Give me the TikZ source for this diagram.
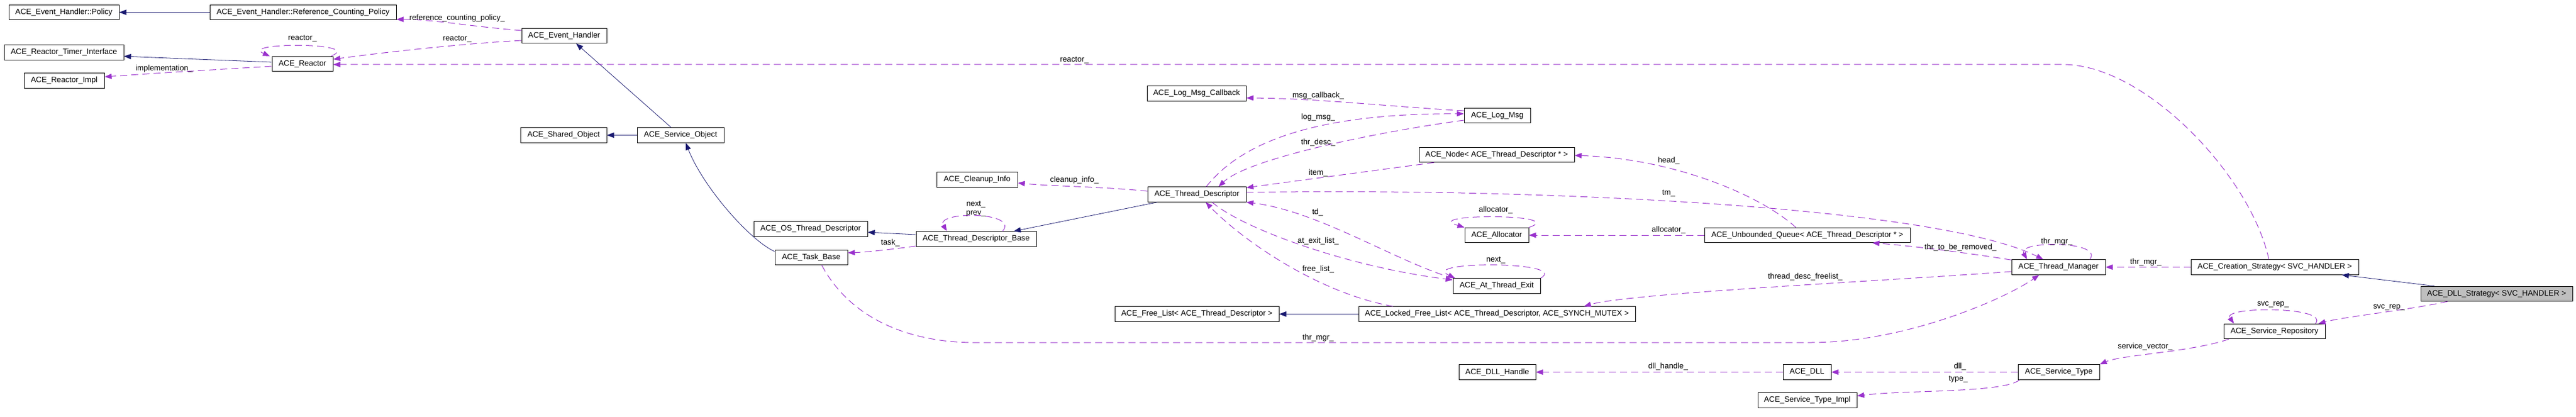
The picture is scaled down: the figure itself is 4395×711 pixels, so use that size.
\documentclass[tikz,border=0pt]{standalone}
\usepackage{fontspec}
\setmainfont{Liberation Sans}
\usetikzlibrary{arrows.meta,calc}
\definecolor{navyedge}{HTML}{191970}
\definecolor{purpedge}{HTML}{9A32CD}
\definecolor{focusgray}{HTML}{BFBFBF}
\begin{document}
\begin{tikzpicture}[x=1pt,y=-1pt,
  box/.style={draw=black, line width=1pt, fill=white, minimum height=25.5pt, inner xsep=1pt, inner ysep=0pt, font=\fontsize{13.3}{15}\selectfont, anchor=center},
  inh/.style={navyedge, line width=0.8pt, -{Triangle[length=12pt,width=9pt]}},
  use/.style={purpedge, line width=1pt, dash pattern=on 12pt off 7pt, -{Triangle[length=12pt,width=9pt]}},
  lab/.style={font=\fontsize{13.3}{15}\selectfont, inner sep=0pt, align=center}]
\useasboundingbox (0,0) rectangle (4395,711);
% nodes
\node[box, minimum width=188pt] (pol) at (109,21) {ACE\_Event\_Handler::Policy};
\node[box, minimum width=318pt] (rcp) at (517,21) {ACE\_Event\_Handler::Reference\_Counting\_Policy};
\node[box, minimum width=145pt] (eh) at (962.5,61) {ACE\_Event\_Handler};
\node[box, minimum width=204pt] (rti) at (109,89.5) {ACE\_Reactor\_Timer\_Interface};
\node[box, minimum width=104pt] (re) at (516,109) {ACE\_Reactor};
\node[box, minimum width=137pt] (rimpl) at (109.5,137.5) {ACE\_Reactor\_Impl};
\node[box, minimum width=147pt] (sh) at (961.5,230.5) {ACE\_Shared\_Object};
\node[box, minimum width=148pt] (so) at (1161,230.5) {ACE\_Service\_Object};
\node[box, minimum width=169pt] (lmc) at (2041.5,159.5) {ACE\_Log\_Msg\_Callback};
\node[box, minimum width=113pt] (lm) at (2554.5,197) {ACE\_Log\_Msg};
\node[box, minimum width=265pt] (nd) at (2553.5,264) {ACE\_Node< ACE\_Thread\_Descriptor * >};
\node[box, minimum width=138pt] (ci) at (1667,306.5) {ACE\_Cleanup\_Info};
\node[box, minimum width=168pt] (td) at (2042,331.5) {ACE\_Thread\_Descriptor};
\node[box, minimum width=194pt] (ostd) at (1383,390.5) {ACE\_OS\_Thread\_Descriptor};
\node[box, minimum width=205pt] (tdb) at (1665.5,407.5) {ACE\_Thread\_Descriptor\_Base};
\node[box, minimum width=124pt] (tb) at (1384,439) {ACE\_Task\_Base};
\node[box, minimum width=109pt] (alloc) at (2553.5,401) {ACE\_Allocator};
\node[box, minimum width=351pt] (uq) at (3083.5,401) {ACE\_Unbounded\_Queue< ACE\_Thread\_Descriptor * >};
\node[box, minimum width=149pt] (ate) at (2553.5,487.5) {ACE\_At\_Thread\_Exit};
\node[box, minimum width=160pt] (tm) at (3512,455.5) {ACE\_Thread\_Manager};
\node[box, minimum width=286pt] (cs) at (3881,455.5) {ACE\_Creation\_Strategy< SVC\_HANDLER >};
\node[box, minimum width=259pt, fill=focusgray] (dlls) at (4259.5,501) {ACE\_DLL\_Strategy< SVC\_HANDLER >};
\node[box, minimum width=280pt] (fl) at (2042,535.5) {ACE\_Free\_List< ACE\_Thread\_Descriptor >};
\node[box, minimum width=472pt] (lfl) at (2554,535.5) {ACE\_Locked\_Free\_List< ACE\_Thread\_Descriptor, ACE\_SYNCH\_MUTEX >};
\node[box, minimum width=173pt] (sr) at (3880.5,565) {ACE\_Service\_Repository};
\node[box, minimum width=131pt] (dllh) at (2554.5,634.5) {ACE\_DLL\_Handle};
\node[box, minimum width=82pt] (dll) at (3083,634.5) {ACE\_DLL};
\node[box, minimum width=139pt] (st) at (3512.5,634.5) {ACE\_Service\_Type};
\node[box, minimum width=169pt] (sti) at (3083.5,682.5) {ACE\_Service\_Type\_Impl};
% inheritance
\draw[inh] (rcp.west) -- (pol.east);
\draw[inh] ($(re.west)+(0,-3)$) -- ($(rti.east)+(0,6.5)$);
\draw[inh] ($(so.north)+(-16,0)$) -- ($(eh.south)+(20.5,0)$);
\draw[inh] (so.west) -- (sh.east);
\draw[inh] ($(tb.north west)+(0,3)$) .. controls (1280,410) and (1200,320) .. ($(so.south)+(9,0)$);
\draw[inh] ($(td.south west)+(17,0)$) -- ($(tdb.north east)+(-39,0)$);
\draw[inh] ($(tdb.west)+(0,-7.5)$) -- ($(ostd.east)+(0,5.5)$);
\draw[inh] (lfl.west) -- (fl.east);
\draw[inh] ($(dlls.north west)+(24,0)$) -- ($(cs.south east)+(-29,0)$);
% usage
\draw[use] ($(eh.west)+(0,-9)$) .. controls (800,45) and (740,33) .. ($(rcp.east)+(0,12)$);
\node[lab] (l1) at (780,31) {reference\_counting\_policy\_};
\draw[use] ($(eh.west)+(0,8)$) .. controls (780,75) and (650,90) .. ($(re.east)+(0,-8)$);
\node[lab] (l2) at (780,67) {reactor\_};
\draw[use] ($(re.north east)+(-4,0)$) .. controls (625,72) and (405,72) .. ($(re.north west)+(-3,0)$);
\node[lab] (l3) at (516,66) {reactor\_};
\draw[use] ($(re.west)+(0,4)$) .. controls (380,118) and (260,125) .. ($(rimpl.east)+(0,-6.5)$);
\node[lab] (l4) at (280,117) {implementation\_};
\draw[use] ($(cs.north)+(-10,0)$) .. controls (3840,300) and (3660,110) .. (3520,110) -- ($(re.east)+(0,1)$);
\node[lab] (l5) at (1833,103) {reactor\_};
\draw[use] ($(lm.west)+(0,-8)$) .. controls (2350,180) and (2250,168) .. ($(lmc.east)+(0,7.5)$);
\node[lab] (l6) at (2249,163) {msg\_callback\_};
\draw[use] ($(td.north)+(16,0)$) .. controls (2120,240) and (2250,193) .. ($(lm.west)+(0,-3)$);
\node[lab] (l7) at (2249,200) {log\_msg\_};
\draw[use] ($(lm.west)+(0,8)$) .. controls (2350,225) and (2130,270) .. ($(td.north)+(37,0)$);
\node[lab] (l8) at (2249,243) {thr\_desc\_};
\draw[use] ($(nd.south west)+(26,0)$) .. controls (2350,290) and (2200,310) .. ($(td.east)+(0,-11.5)$);
\node[lab] (l9) at (2249,295) {item\_};
\draw[use] ($(td.east)+(0,-3.5)$) .. controls (2600,320) and (3300,350) .. ($(tm.north)+(-26,0)$);
\node[lab] (l10) at (2847,330) {tm\_};
\draw[use] (ate.north west) .. controls (2380,445) and (2250,360) .. (td.south east);
\node[lab] (l11) at (2248,362) {td\_};
\draw[use] ($(td.south)+(26,0)$) .. controls (2120,390) and (2300,455) .. ($(ate.north west)+(0,3)$);
\node[lab] (l12) at (2249,411) {at\_exit\_list\_};
\draw[use] ($(lfl.north west)+(59,0)$) .. controls (2250,500) and (2120,410) .. ($(td.south)+(15,0)$);
\node[lab] (l13) at (2249,459) {free\_list\_};
\draw[use] (ate.north east) .. controls (2680,445) and (2420,445) .. ($(ate.north west)+(4,0)$);
\node[lab] (l14) at (2552,444) {next\_};
\draw[use] (alloc.north east) .. controls (2680,364) and (2420,364) .. (alloc.north west);
\node[lab] (l15) at (2552,358) {allocator\_};
\draw[use] (uq.west) -- (alloc.east);
\node[lab] (l16) at (2847,392) {allocator\_};
\draw[use] ($(uq.north)+(-19.5,0)$) .. controls (3000,330) and (2850,270) .. ($(nd.east)+(0,1)$);
\node[lab] (l17) at (2847,274) {head\_};
\draw[use] ($(tm.north west)+(0,1)$) .. controls (3350,430) and (3250,418) .. ($(uq.south east)+(-65,0)$);
\node[lab] (l18) at (3345,422) {thr\_to\_be\_removed\_};
\draw[use] ($(tm.north east)+(-27,0)$) .. controls (3590,410) and (3440,410) .. ($(tm.north west)+(27,0)$);
\node[lab] (l19) at (3509,412) {thr\_mgr\_};
\draw[use] ($(tm.west)+(0,7.5)$) .. controls (3200,480) and (2780,500) .. ($(lfl.north east)+(-88,0)$);
\node[lab] (l20) at (3080,472) {thread\_desc\_freelist\_};
\draw[use] ($(tb.south)+(18,0)$) .. controls (1460,560) and (1580,584) .. (1660,584) -- (3090,584) .. controls (3250,584) and (3420,510) .. ($(tm.south)+(-33,0)$);
\node[lab] (l21) at (2249,576) {thr\_mgr\_};
\draw[use] (cs.west) -- (tm.east);
\node[lab] (l22) at (3661,447) {thr\_mgr\_};
\draw[use] ($(dlls.south west)+(46,0)$) .. controls (4100,530) and (4000,540) .. ($(sr.north east)+(-12,0)$);
\node[lab] (l23) at (4076,524) {svc\_rep\_};
\draw[use] ($(sr.north east)+(-17,0)$) .. controls (3975,522) and (3790,522) .. ($(sr.north west)+(18,0)$);
\node[lab] (l24) at (3878,519) {svc\_rep\_};
\draw[use] ($(sr.south west)+(9,0)$) .. controls (3740,600) and (3620,605) .. (st.north east);
\node[lab] (l25) at (3660,591) {service\_vector\_};
\draw[use] (st.west) -- (dll.east);
\node[lab] (l26) at (3344,625) {dll\_};
\draw[use] (dll.west) -- (dllh.east);
\node[lab] (l27) at (2846,625) {dll\_handle\_};
\draw[use] ($(st.south west)+(3,0)$) .. controls (3420,670) and (3250,665) .. ($(sti.east)+(0,-7.5)$);
\node[lab] (l28) at (3341,647) {type\_};
\draw[use] ($(td.west)+(0,-5.5)$) .. controls (1880,318) and (1800,318) .. ($(ci.east)+(0,5.5)$);
\node[lab] (l29) at (1833,307) {cleanup\_info\_};
\draw[use] ($(tdb.south west)+(0,-1)$) .. controls (1520,425) and (1480,430) .. ($(tb.east)+(0,-8)$);
\node[lab] (l30) at (1519,414) {task\_};
\draw[use] ($(tdb.north east)+(-58,0)$) .. controls (1740,360) and (1595,360) .. ($(tdb.north west)+(53,0)$);
\node[lab] (l31) at (1665,356) {next\_\\prev\_};
\end{tikzpicture}
\end{document}
